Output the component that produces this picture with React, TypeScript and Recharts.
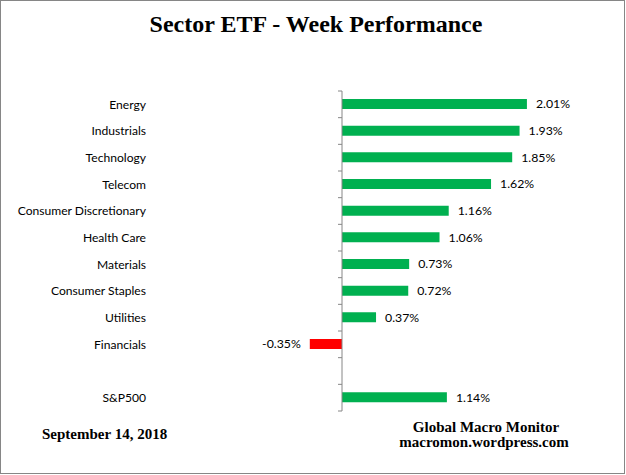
import { Bar, BarChart, Cell, LabelList, ReferenceLine, XAxis, YAxis } from 'recharts';

const categories = [
  'Energy',
  'Industrials',
  'Technology',
  'Telecom',
  'Consumer Discretionary',
  'Health Care',
  'Materials',
  'Consumer Staples',
  'Utilities',
  'Financials',
  ' ',
  'S&P500',
];

// weekly % change
const weekChange: (number | null)[] = [2.01, 1.93, 1.85, 1.62, 1.16, 1.06, 0.73, 0.72, 0.37, -0.35, null, 1.14];

const xDomain = [-2, 2.5];

const data = categories.map((name, i) => ({ name, value: weekChange[i] }));

const UP = '#00B050';
const DOWN = '#FF0000';
const AXIS = '#868686';
const LABEL_FONT = 'Lato, "Open Sans", sans-serif';
const SERIF = '"Liberation Serif", "Times New Roman", serif';

// zero axis with a small tick at every category boundary, like the Excel original
function ZeroAxis(props: any) {
  const { x1, y1, x2, y2 } = props;
  const n = categories.length;
  const ticks = [];
  for (let i = 0; i <= n; i++) {
    const y = y1 + ((y2 - y1) * i) / n;
    ticks.push(<line key={i} x1={x1 - 4} x2={x1} y1={y} y2={y} stroke={AXIS} strokeWidth={1} />);
  }
  return (
    <g>
      <line x1={x1} x2={x2} y1={y1} y2={y2} stroke={AXIS} strokeWidth={1} />
      {ticks}
    </g>
  );
}

export default function App() {
  return (
    <div style={{ position: 'absolute', left: 0, top: 0, width: 626, height: 475, background: '#fff' }}>
      <BarChart
        width={626}
        height={475}
        data={data}
        layout="vertical"
        margin={{ top: 91, right: 54, bottom: 64, left: 0 }}
      >
        <XAxis type="number" domain={xDomain} hide />
        <YAxis
          type="category"
          dataKey="name"
          width={158}
          interval={0}
          tickSize={0}
          tickMargin={12}
          axisLine={false}
          tickLine={false}
          tick={{ fontSize: 12.1, fill: '#000', fontFamily: LABEL_FONT }}
        />
        <Bar dataKey="value" barSize={10} isAnimationActive={false}>
          {data.map((d, i) => (
            <Cell key={i} fill={(d.value ?? 0) < 0 ? DOWN : UP} />
          ))}
          <LabelList
            dataKey="value"
            position="right"
            offset={9}
            formatter={(v: any) => (v == null ? '' : `${Number(v).toFixed(2)}%`)}
            style={{ fontSize: 12.3, fill: '#000', fontFamily: LABEL_FONT }}
          />
        </Bar>
        <ReferenceLine x={0} shape={ZeroAxis} />
      </BarChart>
      <svg
        width={626}
        height={475}
        style={{ position: 'absolute', left: 0, top: 0, pointerEvents: 'none' }}
      >
        <rect x={0.5} y={0.5} width={624} height={473} fill="none" stroke={AXIS} />
        <text x={316} y={32} textAnchor="middle" fontFamily={SERIF} fontWeight="bold" fontSize={24}>
          Sector ETF - Week Performance
        </text>
        <text x={42} y={439} fontFamily={SERIF} fontWeight="bold" fontSize={15}>
          September 14, 2018
        </text>
        <text x={486} y={432} textAnchor="middle" fontFamily={SERIF} fontWeight="bold" fontSize={15}>
          Global Macro Monitor
        </text>
        <text x={484} y={447} textAnchor="middle" fontFamily={SERIF} fontWeight="bold" fontSize={15}>
          macromon.wordpress.com
        </text>
      </svg>
    </div>
  );
}
